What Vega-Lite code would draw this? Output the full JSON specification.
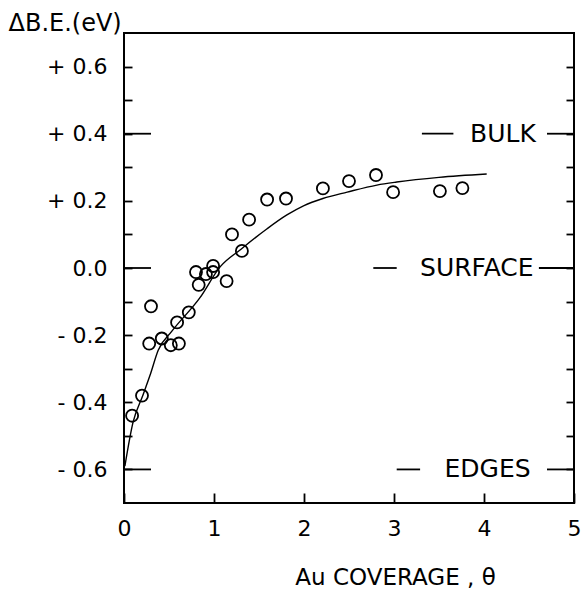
{
  "$schema": "https://vega.github.io/schema/vega-lite/v6.json",
  "width": 450,
  "height": 470,
  "autosize": "none",
  "padding": {"left": 124, "top": 33, "right": 7, "bottom": 87},
  "background": "white",
  "config": {
    "view": {"stroke": "black", "strokeWidth": 2},
    "font": "DejaVu Sans",
    "axis": {"domainColor": "black", "domainWidth": 2, "tickColor": "black", "tickWidth": 1.8, "labelColor": "black", "titleColor": "black", "grid": false, "labelFont": "DejaVu Sans", "titleFont": "DejaVu Sans", "labelFontSize": 22, "titleFontSize": 24, "titleFontWeight": "normal", "labelOverlap": false}
  },
  "datasets": {
    "points": [
      {"theta": 0.09, "dbe": -0.44}, {"theta": 0.2, "dbe": -0.38}, {"theta": 0.28, "dbe": -0.225},
      {"theta": 0.3, "dbe": -0.114}, {"theta": 0.42, "dbe": -0.21}, {"theta": 0.52, "dbe": -0.23},
      {"theta": 0.59, "dbe": -0.162}, {"theta": 0.61, "dbe": -0.225}, {"theta": 0.72, "dbe": -0.132},
      {"theta": 0.8, "dbe": -0.012}, {"theta": 0.83, "dbe": -0.05}, {"theta": 0.91, "dbe": -0.018},
      {"theta": 0.99, "dbe": 0.006}, {"theta": 0.99, "dbe": -0.012}, {"theta": 1.14, "dbe": -0.039},
      {"theta": 1.2, "dbe": 0.1}, {"theta": 1.31, "dbe": 0.051}, {"theta": 1.39, "dbe": 0.144},
      {"theta": 1.59, "dbe": 0.204}, {"theta": 1.8, "dbe": 0.207}, {"theta": 2.21, "dbe": 0.237},
      {"theta": 2.5, "dbe": 0.259}, {"theta": 2.8, "dbe": 0.277}, {"theta": 2.99, "dbe": 0.226},
      {"theta": 3.51, "dbe": 0.229}, {"theta": 3.76, "dbe": 0.238}
    ],
    "curve": [
      {"theta": 0.01, "dbe": -0.59}, {"theta": 0.1, "dbe": -0.46}, {"theta": 0.21, "dbe": -0.379},
      {"theta": 0.29, "dbe": -0.319}, {"theta": 0.38, "dbe": -0.245}, {"theta": 0.53, "dbe": -0.189},
      {"theta": 0.84, "dbe": -0.09}, {"theta": 1.07, "dbe": 0.004}, {"theta": 1.3, "dbe": 0.056},
      {"theta": 1.59, "dbe": 0.117}, {"theta": 1.81, "dbe": 0.158}, {"theta": 2.0, "dbe": 0.186},
      {"theta": 2.21, "dbe": 0.207}, {"theta": 2.48, "dbe": 0.226}, {"theta": 2.81, "dbe": 0.247},
      {"theta": 3.03, "dbe": 0.256}, {"theta": 3.5, "dbe": 0.27}, {"theta": 4.03, "dbe": 0.28}
    ],
    "levels": [
      {"level": "BULK", "dbe": 0.4, "xText": 4.21, "l0": 3.31, "l1": 3.66, "r0": 4.7, "r1": 5.0},
      {"level": "SURFACE", "dbe": 0.0, "xText": 3.92, "l0": 2.77, "l1": 3.03, "r0": 4.61, "r1": 5.0},
      {"level": "EDGES", "dbe": -0.6, "xText": 4.04, "l0": 3.03, "l1": 3.29, "r0": 4.7, "r1": 5.0}
    ]
  },
  "layer": [
    {
      "data": {"name": "points"},
      "mark": {"type": "point", "shape": "circle", "filled": false, "stroke": "black", "strokeWidth": 1.8, "size": 145, "opacity": 1},
      "encoding": {
        "x": {"field": "theta", "type": "quantitative", "scale": {"domain": [0, 5], "nice": false},
          "axis": {"title": "Au COVERAGE , θ", "values": [0, 1, 2, 3, 4, 5], "format": "d", "labelFlush": false, "domain": false, "offset": -10, "tickSize": 10, "labelPadding": 15, "titleX": 271, "titleY": 91, "titleAlign": "center", "titleBaseline": "alphabetic", "titleFontSize": 23}},
        "y": {"field": "dbe", "type": "quantitative", "scale": {"domain": [-0.7, 0.7], "nice": false, "zero": false},
          "axis": {"orient": "left", "offset": -8, "domain": false, "labelFlush": false, "title": "ΔB.E.(eV)", "titleAngle": 0, "titleAlign": "left", "titleBaseline": "alphabetic", "titleX": -124, "titleY": -3,
            "values": [-0.6, -0.5, -0.4, -0.3, -0.2, -0.1, 0, 0.1, 0.2, 0.3, 0.4, 0.5, 0.6],
            "tickSize": 8, "labelPadding": 17, "labelAlign": "right",
            "labelExpr": "abs(round(datum.value*10)) % 2 == 1 ? '' : (datum.value > 0.001 ? '+ ' + format(datum.value, '.1f') : (datum.value < -0.001 ? '- ' + format(abs(datum.value), '.1f') : '0.0'))"}}
      }
    },
    {
      "data": {"name": "curve"},
      "mark": {"type": "line", "interpolate": "monotone", "stroke": "black", "strokeWidth": 1.4},
      "encoding": {
        "x": {"field": "theta", "type": "quantitative"},
        "y": {"field": "dbe", "type": "quantitative", "axis": null}
      }
    },
    {
      "data": {"name": "levels"},
      "mark": {"type": "rule", "stroke": "black", "strokeWidth": 1.8},
      "encoding": {
        "x": {"field": "l0", "type": "quantitative"},
        "x2": {"field": "l1"},
        "y": {"field": "dbe", "type": "quantitative",
          "axis": {"orient": "right", "offset": -8, "title": null, "labels": false, "domain": false, "values": [-0.6, -0.5, -0.4, -0.3, -0.2, -0.1, 0, 0.1, 0.2, 0.3, 0.4, 0.5, 0.6], "tickSize": 8}}
      }
    },
    {
      "data": {"name": "levels"},
      "mark": {"type": "rule", "stroke": "black", "strokeWidth": 1.8},
      "encoding": {
        "x": {"field": "r0", "type": "quantitative"},
        "x2": {"field": "r1"},
        "y": {"field": "dbe", "type": "quantitative", "axis": null}
      }
    },
    {
      "data": {"name": "levels"},
      "mark": {"type": "rule", "stroke": "black", "strokeWidth": 1.8},
      "encoding": {
        "x": {"datum": 0, "type": "quantitative"},
        "x2": {"datum": 0.3},
        "y": {"field": "dbe", "type": "quantitative", "axis": null}
      }
    },
    {
      "data": {"name": "levels"},
      "mark": {"type": "text", "fontSize": 25, "align": "center", "baseline": "middle", "color": "black", "font": "DejaVu Sans"},
      "encoding": {
        "x": {"field": "xText", "type": "quantitative"},
        "y": {"field": "dbe", "type": "quantitative", "axis": null},
        "text": {"field": "level"}
      }
    }
  ],
  "resolve": {"axis": {"y": "independent"}}
}
